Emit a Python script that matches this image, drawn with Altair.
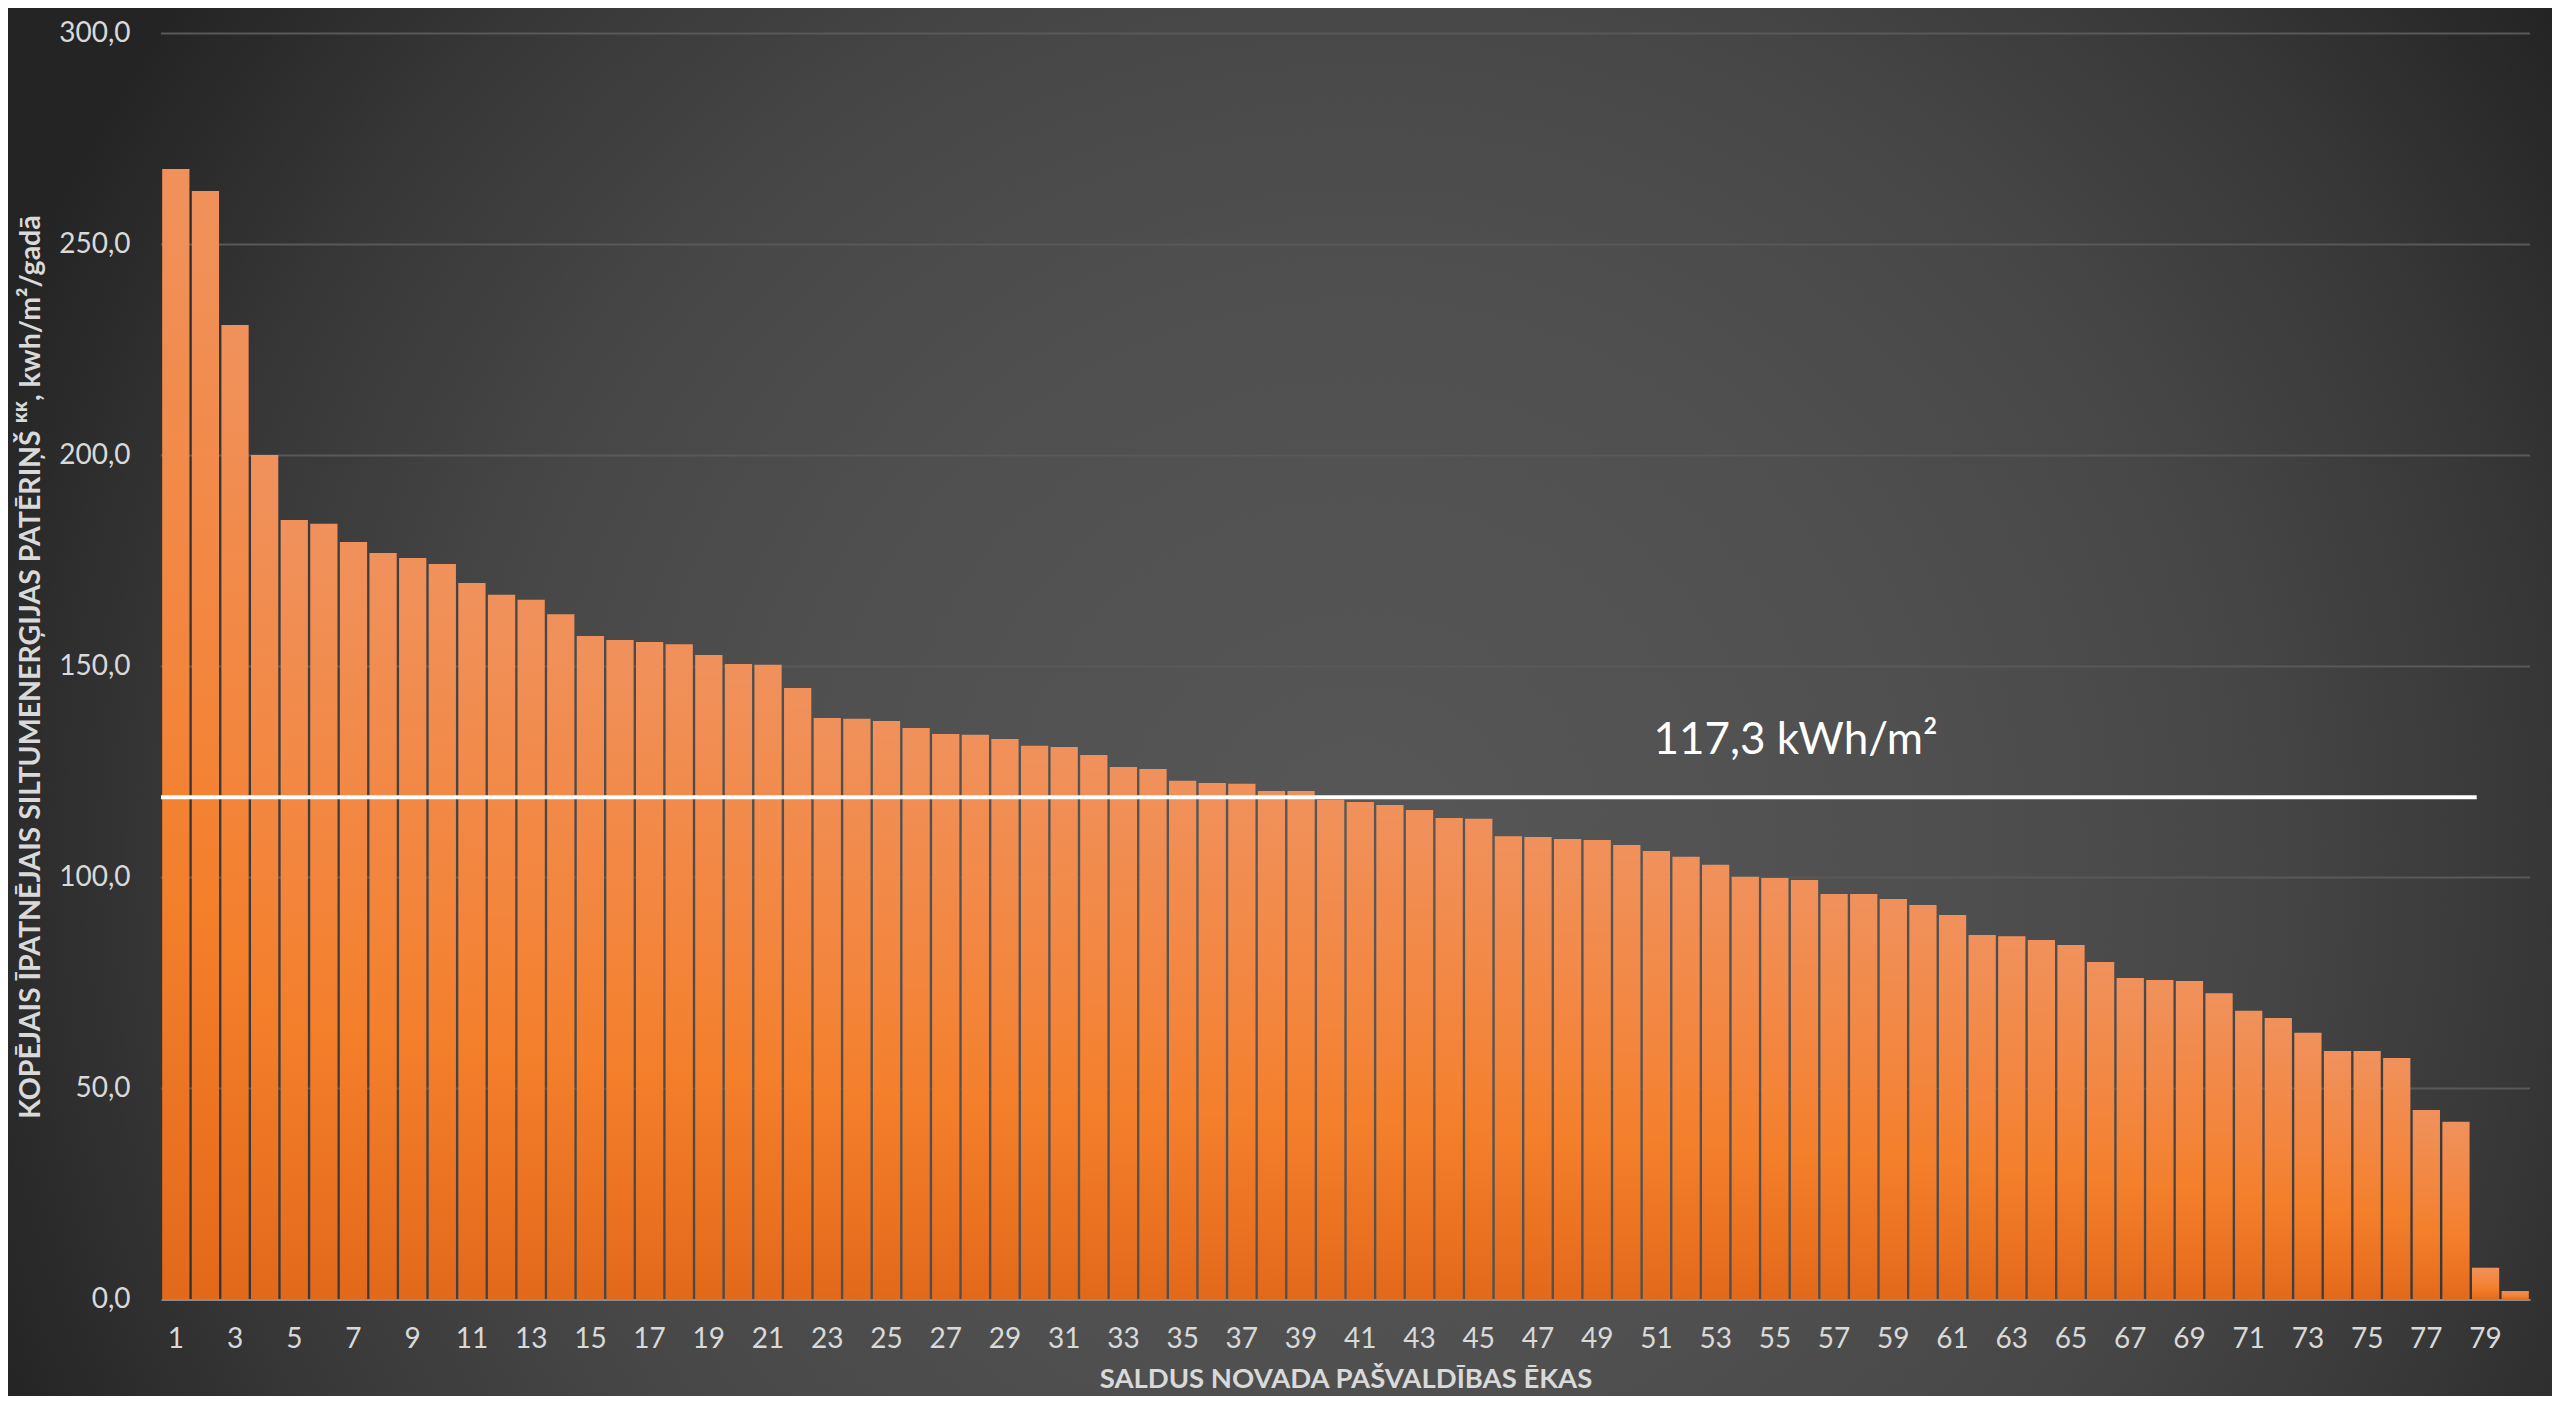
import altair as alt
import pandas as pd

# ---- data ----
buildings = [1, 2, 3, 4, 5, 6, 7, 8, 9, 10, 11, 12, 13, 14, 15, 16, 17, 18, 19, 20,
             21, 22, 23, 24, 25, 26, 27, 28, 29, 30, 31, 32, 33, 34, 35, 36, 37, 38, 39, 40,
             41, 42, 43, 44, 45, 46, 47, 48, 49, 50, 51, 52, 53, 54, 55, 56, 57, 58, 59, 60,
             61, 62, 63, 64, 65, 66, 67, 68, 69, 70, 71, 72, 73, 74, 75, 76, 77, 78, 79, 80]
consumption = [267.9, 262.7, 230.9, 200.1, 184.7, 183.8, 179.5, 176.9, 175.7, 174.3,
               169.8, 167.0, 165.8, 162.4, 157.2, 156.3, 155.8, 155.3, 152.7, 150.6,
               150.4, 144.9, 137.8, 137.6, 137.1, 135.4, 134.0, 133.8, 132.8, 131.2,
               130.9, 129.0, 126.2, 125.7, 122.9, 122.4, 122.2, 120.5, 120.5, 118.4,
               117.9, 117.2, 116.0, 114.1, 113.9, 109.8, 109.6, 109.1, 108.9, 107.7,
               106.3, 104.9, 103.0, 100.2, 99.9, 99.4, 96.1, 96.1, 94.9, 93.5,
               91.1, 86.4, 86.1, 85.2, 84.0, 80.0, 76.2, 75.7, 75.5, 72.6,
               68.4, 66.7, 63.2, 58.9, 58.9, 57.2, 44.9, 42.1, 7.5, 2.0]
x_tick_labels = [1, 3, 5, 7, 9, 11, 13, 15, 17, 19, 21, 23, 25, 27, 29, 31, 33, 35, 37, 39,
                 41, 43, 45, 47, 49, 51, 53, 55, 57, 59, 61, 63, 65, 67, 69, 71, 73, 75, 77, 79]
y_ticks = [0, 50, 100, 150, 200, 250, 300]
grid_values = [50, 100, 150, 200, 250, 300]

mean_label = "117,3 kWh/m²"
mean_line_value = 119.0          # where the white line sits in the picture
mean_line_start = [0.0]          # in bar-slot units from the left edge
mean_line_end = [78.2]
mean_label_pos = [55.2]
mean_label_value = [129.3]

y_title = "KOPĒJAIS ĪPATNĒJAIS SILTUMENERĢIJAS PATĒRIŅŠ ᴷᴷ, kwh/m²/gadā"
x_title = "SALDUS NOVADA PAŠVALDĪBAS ĒKAS"

W, H = 2369, 1266
PAD = {"left": 153, "top": 25.5, "right": 22, "bottom": 96.5}
FONT = "Lato"
LABEL_COLOR = "#d9d9d9"

bars_df = pd.DataFrame({"building": buildings, "value": consumption})
grid_df = pd.DataFrame({"value": grid_values, "x0": [0] * len(grid_values), "x1": [80] * len(grid_values)})
mean_df = pd.DataFrame({"x0": mean_line_start, "x1": mean_line_end, "value": [mean_line_value]})
label_df = pd.DataFrame({"x": mean_label_pos, "value": mean_label_value, "t": [mean_label]})

slot_scale = alt.Scale(domain=[0, 80], nice=False, zero=False)
y_scale = alt.Scale(domain=[0, 300], nice=False)

y_axis = alt.Axis(
    values=y_ticks,
    labelExpr="replace(format(datum.value, '.1f'), '.', ',')",
    grid=False,
    domain=False,
    ticks=False,
    labelFont=FONT,
    labelFontSize=28,
    labelColor=LABEL_COLOR,
    labelPadding=31,
    title=y_title,
    titleFont=FONT,
    titleFontSize=28.5,
    titleFontWeight="bold",
    titleColor=LABEL_COLOR,
    titleAngle=270,
    titleAlign="center",
    titleBaseline="middle",
    titleX=-131,
    titleY=633,
    zindex=1,
)


def Y():
    return alt.Y("value:Q", scale=y_scale, axis=y_axis)


# background radial gradient (square rect so the gradient is circular)
bg_side = 2560
bg = alt.Chart(pd.DataFrame({"a": [0]})).mark_rect(
    color=alt.Gradient(
        gradient="radial",
        stops=[
            alt.GradientStop(color="#575757", offset=0),
            alt.GradientStop(color="#4f4f4f", offset=0.4),
            alt.GradientStop(color="#474747", offset=0.6),
            alt.GradientStop(color="#383838", offset=0.8),
            alt.GradientStop(color="#242424", offset=1),
        ],
        x1=0.528, y1=0.555, r1=0,
        x2=0.528, y2=0.555, r2=0.57,
    )
).encode(
    x=alt.value(-PAD["left"]),
    x2=alt.value(-PAD["left"] + bg_side),
    y=alt.value(-600),
    y2=alt.value(-600 + bg_side),
)

grid = alt.Chart(grid_df).mark_rule(color="#595959", strokeWidth=2).encode(
    x=alt.X("x0:Q", scale=slot_scale, axis=None),
    x2="x1:Q",
    y=Y(),
)

bars = alt.Chart(bars_df).mark_bar(
    color=alt.Gradient(
        gradient="linear",
        stops=[
            alt.GradientStop(color="#f0915c", offset=0),
            alt.GradientStop(color="#f3853c", offset=0.45),
            alt.GradientStop(color="#f47f2b", offset=0.65),
            alt.GradientStop(color="#e3691a", offset=1),
        ],
        x1=0, x2=0, y1=0, y2=1,
    )
).encode(
    x=alt.X(
        "building:O",
        scale=alt.Scale(paddingInner=0.08, paddingOuter=0.04),
        axis=alt.Axis(
            values=x_tick_labels,
            labelAngle=0,
            ticks=False,
            domain=True,
            domainColor="#8c8c8c",
            domainWidth=2,
            labelFont=FONT,
            labelFontSize=28,
            labelColor=LABEL_COLOR,
            labelPadding=26,
            title=x_title,
            titleFont=FONT,
            titleFontSize=27.5,
            titleFontWeight="bold",
            titleColor=LABEL_COLOR,
            titleBaseline="middle",
            titleY=80,
            zindex=1,
        ),
    ),
    y=Y(),
)

mean_rule = alt.Chart(mean_df).mark_rule(color="#ffffff", strokeWidth=4).encode(
    x=alt.X("x0:Q", scale=slot_scale, axis=None),
    x2="x1:Q",
    y=Y(),
)

mean_text = alt.Chart(label_df).mark_text(
    font=FONT, fontSize=44, color="#ffffff", align="center", baseline="alphabetic"
).encode(
    x=alt.X("x:Q", scale=slot_scale, axis=None),
    y=Y(),
    text="t:N",
)

chart = alt.layer(bg, grid, bars, mean_rule, mean_text).resolve_scale(
    x="independent"
).properties(
    width=W,
    height=H,
    background="#262626",
    padding=PAD,
    autosize=alt.AutoSizeParams(type="none"),
).configure_view(strokeWidth=0)

chart.save("out.html", embed_options={"renderer": "svg", "actions": False})
